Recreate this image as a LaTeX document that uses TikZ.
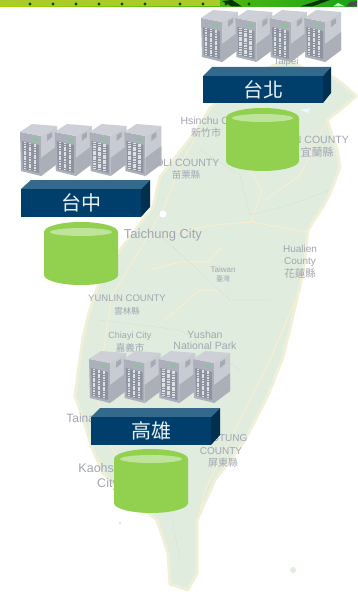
\documentclass[tikz,border=0pt]{standalone}
\usepackage{fontspec}
\setmainfont{Liberation Sans}
\newfontfamily\cjk{Noto Sans CJK TC}
\definecolor{landc}{HTML}{DFECDE}
\definecolor{roadc}{HTML}{F6EDD2}
\definecolor{coastc}{HTML}{F0F0D8}
\definecolor{borderc}{HTML}{C8D7CC}
\definecolor{maptext}{HTML}{A2A6B2}
\definecolor{boxfront}{HTML}{003F6B}
\definecolor{boxtop}{HTML}{336A8C}
\definecolor{boxside}{HTML}{002F50}
\definecolor{cylc}{HTML}{92D14F}
\definecolor{cyltop}{HTML}{BEE39B}
\definecolor{SrvFront}{HTML}{ABB0BA}
\definecolor{SrvInner}{HTML}{8D949F}
\definecolor{SrvTop}{HTML}{CDD0D6}
\definecolor{SrvSide}{HTML}{C8CBD1}
\definecolor{SrvSideLow}{HTML}{ABAFB8}
\definecolor{SrvSlot}{HTML}{A6AAB2}
\definecolor{SrvGreen}{HTML}{8CC39A}
\definecolor{SrvStripe}{HTML}{DDE1E4}
\tikzset{
  maplabel/.style={text=maptext,font=\fontsize{9.5}{11}\selectfont,inner sep=0pt,align=center},
  mapsmall/.style={text=maptext,font=\cjk\fontsize{8.5}{10}\selectfont,inner sep=0pt,align=center},
  roadline/.style={draw=roadc,line width=1.2pt,line join=round},
  borderline/.style={draw=borderc,line width=.5pt,densely dotted},
  citylabel/.style={text=white!92!boxfront,font=\cjk\fontsize{20}{22}\selectfont,inner sep=0pt},
  serverbox/.pic={
    \fill[SrvFront] (0,0) -- (21,4) -- (21,44) -- (1,39) -- cycle;
    \fill[SrvInner] (2,9) -- (19,13) -- (19,41) -- (3,37) -- cycle;
    \fill[SrvTop] (0,0) -- (12,-8) -- (37,-6) -- (21,4) -- cycle;
    \fill[SrvSide] (21,4) -- (37,-6) -- (37,32) -- (21,44) -- cycle;
    \fill[SrvSideLow] (21,26) -- (37,14) -- (37,32) -- (21,44) -- cycle;
    \fill[SrvSlot] (27,3) -- (32,0) -- (32,5) -- (27,9) -- cycle;
    \fill[SrvGreen] (12,5.5) -- (18,6.9) -- (18,9.6) -- (12,8.2) -- cycle;
    \foreach \dx in {5,10,15}{
      \draw[SrvStripe,line width=2.4pt,dash pattern=on 1.2pt off .5pt] (\dx,{9+.23*\dx}) -- (\dx,{35+.23*\dx});
    }
  }
}
\newcommand{\cylat}[4]{% left, right, top, bottom
  \fill[cylc] (#1,#3+10) arc[start angle=180,end angle=360,x radius={(#2-#1)/2},y radius=10] -- (#2,#4-10) arc[start angle=0,end angle=180,x radius={(#2-#1)/2},y radius=10] -- cycle;
  \fill[cyltop] ({(#1+#2)/2},#3+10) ellipse[x radius={(#2-#1)/2-6},y radius=4];
}
\begin{document}
\begin{tikzpicture}[x=1pt,y=-1pt]
\useasboundingbox (0,0) rectangle (357,596);
\fill[white] (0,0) rectangle (357,596);
% top strip
\shade[left color=yellow!75!green!85!black,right color=green!60!black!90] (0,0) rectangle (357,6.5);
\fill[yellow!70!green!90!black] (0,0) rectangle (220,6.5);
\foreach \i in {30,53,76,99,122,145,180,203,226,249}{\fill[black!70!green] (\i,4) circle (1.6);}
\fill[black!80!green] (222,1) -- (232,0) -- (242,6.5) -- (232,6.5) -- cycle;
\fill[black!80!green] (300,6.5) -- (320,0) -- (330,0) -- (312,6.5) -- cycle;
\fill[white!70!green] (333,6.5) -- (338,3) -- (345,6.5) -- cycle;
\fill[black!70] (346,6.5) -- (350,2) -- (357,1) -- (357,6.5) -- cycle;
% map
\path[fill=landc,draw=coastc,line width=3pt,line join=round] (272,66) -- (290,60) -- (312,74) -- (333,77) -- (345,86) -- (356,96) -- (340,110) -- (327,120) -- (337,150) -- (340,167) -- (330,193) -- (325,203) -- (308,230) -- (303,273) -- (295,307) -- (283,357) -- (268,395) -- (245,440) -- (215,480) -- (197,520) -- (197,573) -- (188,590) -- (170,584) -- (168,553) -- (157,520) -- (125,495) -- (103,473) -- (93,450) -- (80,410) -- (75,396) -- (83,337) -- (90,310) -- (100,280) -- (120,250) -- (153,207) -- (160,177) -- (197,130) -- (210,108) -- (240,85) -- cycle;
\fill[landc] (293,570) circle (3);
\fill[landc] (120,523) circle (1.5);
\draw[roadline] (200,130) -- (180,165) -- (165,205) -- (140,250) -- (112,295) -- (105,340) -- (98,400) -- (112,450) -- (160,500);
\draw[roadline] (250,170) -- (262,190) -- (252,220) -- (250,222) -- (215,225) -- (160,235);
\draw[roadline] (252,222) -- (268,225) -- (307,232);
\draw[roadline] (150,270) -- (180,262) -- (208,262) -- (222,247);
\draw[roadline] (165,320) -- (200,290) -- (218,290);
\draw[roadline] (295,300) -- (270,360) -- (240,420) -- (205,490) -- (195,530);
\draw[roadline] (327,120) -- (300,175) -- (265,200);
\draw[borderline] (200,150) -- (240,175) -- (250,215) -- (290,205) -- (330,190);
\draw[borderline] (160,235) -- (230,300) -- (270,300);
\draw[borderline] (100,320) -- (180,330) -- (240,370);
\draw[borderline] (170,480) -- (172,520) -- (180,560);
\fill[cyan!8] (300,110) -- (310,108) -- (308,113) -- cycle;
% map labels
\node[maplabel] (lTaipei) at (286,62) {Taipei};
\node[maplabel,font=\fontsize{10.5}{12}\selectfont] (lHsinchu) at (210,122) {Hsinchu City};
\node[mapsmall,font=\cjk\fontsize{10}{12}\selectfont] (lHsinchuC) at (206,133) {新竹市};
\node[maplabel,font=\fontsize{10.5}{12}\selectfont] (lMiaoli) at (178,163) {MIAOLI COUNTY};
\node[mapsmall,font=\cjk\fontsize{9.5}{11}\selectfont] (lMiaoliC) at (186,175) {苗栗縣};
\node[maplabel,font=\fontsize{10.5}{12}\selectfont] (lYilan) at (310,140) {YILAN COUNTY};
\node[mapsmall,font=\cjk\fontsize{11}{12}\selectfont] (lYilanC) at (317,152) {宜蘭縣};
\node[maplabel,font=\fontsize{13}{14}\selectfont] (lTaichung) at (163,235) {Taichung City};
\fill[white] (163,214) circle (3.5);
\node[maplabel,font=\fontsize{8}{9}\selectfont] (lTaiwan) at (223,270) {Taiwan};
\node[mapsmall,font=\cjk\fontsize{7}{9}\selectfont] (lTaiwanC) at (223,279) {臺灣};
\node[maplabel,font=\fontsize{10}{12}\selectfont] (lHualien) at (300,256) {Hualien\\County};
\node[mapsmall,font=\cjk\fontsize{10.5}{12}\selectfont] (lHualienC) at (300,273) {花蓮縣};
\node[maplabel] (lYunlin) at (127,298) {YUNLIN COUNTY};
\node[mapsmall] (lYunlinC) at (127,311) {雲林縣};
\node[maplabel,font=\fontsize{9}{10}\selectfont] (lChiayi) at (130,336) {Chiayi City};
\node[mapsmall,font=\cjk\fontsize{9.5}{11}\selectfont] (lChiayiC) at (130,348) {嘉義市};
\node[maplabel,font=\fontsize{10.5}{11.5}\selectfont] (lYushan) at (205,340) {Yushan\\National Park};
\node[maplabel,font=\fontsize{12}{13}\selectfont] (lTainan) at (84,418) {Tainan};
\node[maplabel,font=\fontsize{12.5}{15}\selectfont] (lKao) at (108,477) {Kaohsiung\\City};
\node[maplabel,font=\fontsize{10}{13}\selectfont] (lPing) at (221,445) {PINGTUNG\\COUNTY};
\node[mapsmall,font=\cjk\fontsize{10}{12}\selectfont] (lPingC) at (223,463) {屏東縣};
% servers
\foreach \i in {0,1,2,3}{
  \pic at ({201+34.4*\i},18) {serverbox};
  \pic at ({20+34.8*\i},132) {serverbox};
  \pic at ({89+34.7*\i},359) {serverbox};
}
% Taipei
\fill[boxtop] (203,76) -- (212,67) -- (331,67) -- (323,76) -- cycle;
\fill[boxside] (323,76) -- (331,67) -- (331,93) -- (323,103) -- cycle;
\node[fill=boxfront,minimum width=120pt,minimum height=27pt,inner sep=0pt,anchor=north west,citylabel] (boxA) at (203,76) {台北};
% Taichung
\fill[boxtop] (21,189) -- (31,180) -- (150,180) -- (141,189) -- cycle;
\fill[boxside] (141,189) -- (150,180) -- (150,207) -- (141,217) -- cycle;
\node[fill=boxfront,minimum width=120pt,minimum height=28pt,inner sep=0pt,anchor=north west,citylabel] (boxB) at (21,189) {台中};
% Kaohsiung
\fill[boxtop] (91,417) -- (100,408) -- (220,408) -- (211,417) -- cycle;
\fill[boxside] (211,417) -- (220,408) -- (220,435) -- (211,445) -- cycle;
\node[fill=boxfront,minimum width=120pt,minimum height=28pt,inner sep=0pt,anchor=north west,citylabel] (boxC) at (91,417) {高雄};
% cylinders
\cylat{226}{299}{108}{171}
\cylat{44}{118}{222}{285}
\cylat{114}{188}{449}{513}
\end{tikzpicture}
\end{document}
